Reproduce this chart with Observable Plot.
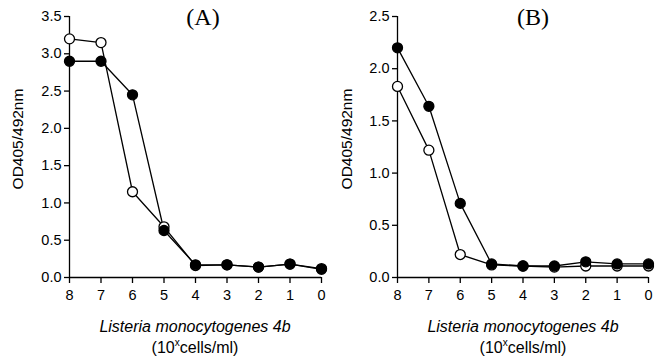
<!DOCTYPE html>
<html><head><meta charset="utf-8">
<script src="https://cdn.jsdelivr.net/npm/d3@7"></script>
<script src="https://cdn.jsdelivr.net/npm/@observablehq/plot@0.6"></script>
<style>
body{margin:0;background:#fff;}
#wrap{position:relative;width:659px;height:358px;font-family:"Liberation Sans",Arial,sans-serif;}
.panel{position:absolute;top:0;}
.ttl{position:absolute;font-family:"Liberation Serif","Times New Roman",serif;font-size:24px;transform:translateX(-50%);top:4px;}
.xl{position:absolute;font-size:16px;text-align:center;transform:translateX(-50%);line-height:21px;white-space:nowrap;}
.yl{position:absolute;font-size:15.5px;transform:translate(-50%,-50%) rotate(-90deg);white-space:nowrap;}
</style></head>
<body><div id="wrap"></div>
<script>
const dilutions = [8,7,6,5,4,3,2,1,0];
const aOpen   = [3.20,3.15,1.15,0.68,0.16,0.17,0.14,0.18,0.12];
const aFilled = [2.90,2.90,2.45,0.63,0.17,0.17,0.14,0.18,0.11];
const bOpen   = [1.83,1.22,0.22,0.12,0.11,0.10,0.11,0.11,0.11];
const bFilled = [2.20,1.64,0.71,0.13,0.11,0.11,0.15,0.13,0.13];
const aYTicks = [0,0.5,1,1.5,2,2.5,3,3.5];
const bYTicks = [0,0.5,1,1.5,2,2.5];

function panel(open, filled, yMax, yTicks, left, width, ml, mr){
  const o = dilutions.map((d,i)=>({x:d,y:open[i]}));
  const f = dilutions.map((d,i)=>({x:d,y:filled[i]}));
  const series = [[o,"white"],[f,"black"]];
  const marks = [
    Plot.ruleX([8],{y1:0,y2:yMax,stroke:"black",strokeWidth:1.3}),
    Plot.ruleY([0],{x1:8,x2:0,stroke:"black",strokeWidth:1.3}),
    Plot.axisX({ticks:dilutions,tickSize:6,tickPadding:6,fontSize:14.5,tickFormat:d=>d,label:null,stroke:"black",strokeWidth:1.3}),
    Plot.axisY({ticks:yTicks,tickSize:5,tickPadding:3,fontSize:14.5,tickFormat:d3.format(".1f"),label:null,stroke:"black",strokeWidth:1.3})
  ];
  for(const [d,fill] of series){
    marks.push(Plot.line(d,{x:"x",y:"y",stroke:"black",strokeWidth:1.3}));
  }
  for(const [d,fill] of series){
    marks.push(Plot.dot(d,{x:"x",y:"y",r:5,fill:fill,stroke:"black",strokeWidth:1.3}));
  }
  const p = Plot.plot({
    width, height:358, marginTop:16, marginBottom:81, marginLeft:ml, marginRight:mr,
    style:{fontFamily:"Liberation Sans, Arial, sans-serif",fontSize:"14.5px",color:"black",background:"white",overflow:"visible"},
    x:{domain:[8,0]}, y:{domain:[0,yMax]},
    marks
  });
  p.classList.add("panel");
  p.style.left = left+"px";
  return p;
}
const wrap = document.getElementById("wrap");
wrap.appendChild(panel(aOpen,aFilled,3.5,aYTicks,0,330,69,9));
wrap.appendChild(panel(bOpen,bFilled,2.5,bYTicks,330,329,67,11));
function addDiv(cls, html, x, y){
  const d=document.createElement("div"); d.className=cls; d.innerHTML=html;
  d.style.left=x+"px"; d.style.top=y+"px"; wrap.appendChild(d);
}
addDiv("ttl","(A)",203,4);
addDiv("ttl","(B)",533,4);
addDiv("yl","OD405/492nm",18,139);
addDiv("yl","OD405/492nm",347,139);
const xt = "<i>Listeria monocytogenes 4b</i><br>(10<sup style='font-size:10px;vertical-align:7px;line-height:0'>x</sup>cells/ml)";
addDiv("xl",xt,195,316);
addDiv("xl",xt,523,316);
</script></body></html>
